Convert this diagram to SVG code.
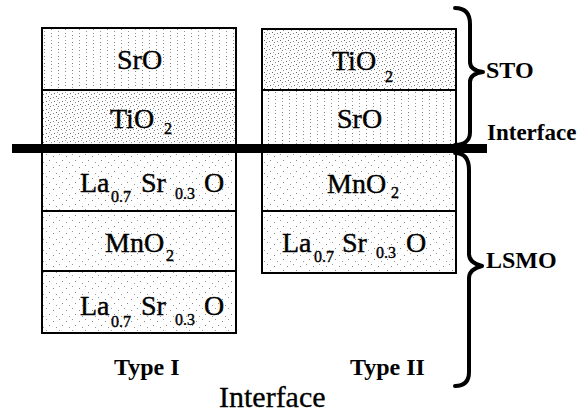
<svg xmlns="http://www.w3.org/2000/svg" width="582" height="412" viewBox="0 0 582 412">
<defs>
<pattern id="pSrO" width="14" height="7" patternUnits="userSpaceOnUse">
<rect x="2" y="0" width="1" height="1" fill="#777"/>
<rect x="2" y="3" width="1" height="1" fill="#999"/>
<rect x="9" y="1" width="1" height="1" fill="#888"/>
<rect x="9" y="5" width="1" height="1" fill="#999"/>
</pattern>
<pattern id="pTi" width="8" height="8" patternUnits="userSpaceOnUse">
<rect x="0" y="0" width="1" height="1" fill="#666"/>
<rect x="2" y="2" width="1" height="1" fill="#777"/>
<rect x="5" y="1" width="1" height="1" fill="#888"/>
<rect x="6" y="5" width="1" height="1" fill="#666"/>
<rect x="3" y="6" width="1" height="1" fill="#888"/>
<rect x="1" y="4" width="1" height="1" fill="#999"/>
</pattern>
<pattern id="pLS" width="13" height="11" patternUnits="userSpaceOnUse">
<rect x="1" y="2" width="1" height="1" fill="#888"/>
<rect x="7" y="0" width="1" height="1" fill="#999"/>
<rect x="10" y="6" width="1" height="1" fill="#888"/>
<rect x="4" y="8" width="1" height="1" fill="#999"/>
</pattern>
</defs>
<style>
.cell{stroke:#000;stroke-width:2}
.srO{fill:url(#pSrO)}
.ti{fill:url(#pTi)}
.ls{fill:url(#pLS)}
.lbl{font-family:"Liberation Serif","Times New Roman",serif;font-size:28px;fill:#000;stroke:#000;stroke-width:0.4}
.sub{font-size:16px}
.bold{font-family:"Liberation Serif","Times New Roman",serif;font-size:24px;font-weight:bold;fill:#000}
.cap{font-family:"Liberation Serif","Times New Roman",serif;font-size:30px;fill:#000;stroke:#000;stroke-width:0.3}
.brace{fill:none;stroke:#000;stroke-width:4;stroke-linecap:round;stroke-linejoin:round}
</style>
<rect width="582" height="412" fill="#fff"/>

<g id="type1">
<g id="t1-sro"><rect class="cell srO" x="42" y="28" width="194" height="62"/>
<text class="lbl" x="117" y="69">SrO</text></g>
<g id="t1-tio2"><rect class="cell ti" x="42" y="90" width="194" height="58"/>
<text class="lbl"><tspan x="110" y="128">TiO</tspan><tspan class="sub" x="164" y="134">2</tspan></text></g>
<g id="t1-lso1"><rect class="cell ls" x="42" y="148" width="194" height="63"/>
<text class="lbl"><tspan x="80" y="192">La</tspan><tspan class="sub" x="111" y="202">0.7</tspan><tspan x="141" y="192">Sr</tspan><tspan class="sub" x="175" y="199">0.3</tspan><tspan x="204" y="192">O</tspan></text></g>
<g id="t1-mno2"><rect class="cell ls" x="42" y="211" width="194" height="60"/>
<text class="lbl"><tspan x="105" y="252">MnO</tspan><tspan class="sub" x="166" y="261">2</tspan></text></g>
<g id="t1-lso2"><rect class="cell ls" x="42" y="271" width="194" height="62"/>
<text class="lbl"><tspan x="80" y="315">La</tspan><tspan class="sub" x="111" y="327">0.7</tspan><tspan x="141" y="315">Sr</tspan><tspan class="sub" x="175" y="325">0.3</tspan><tspan x="204" y="315">O</tspan></text></g>
</g>

<g id="type2">
<g id="t2-tio2"><rect class="cell ti" x="262" y="29" width="194" height="61"/>
<text class="lbl"><tspan x="332" y="70">TiO</tspan><tspan class="sub" x="385" y="82">2</tspan></text></g>
<g id="t2-sro"><rect class="cell srO" x="262" y="90" width="194" height="58"/>
<text class="lbl" x="337" y="128">SrO</text></g>
<g id="t2-mno2"><rect class="cell ls" x="262" y="148" width="194" height="63"/>
<text class="lbl"><tspan x="327" y="193">MnO</tspan><tspan class="sub" x="391" y="198">2</tspan></text></g>
<g id="t2-lso"><rect class="cell ls" x="262" y="211" width="194" height="62"/>
<text class="lbl"><tspan x="282" y="252">La</tspan><tspan class="sub" x="314" y="262">0.7</tspan><tspan x="342" y="252">Sr</tspan><tspan class="sub" x="376" y="258">0.3</tspan><tspan x="406" y="252">O</tspan></text></g>
</g>

<g id="connectors">
<rect id="interface-line" x="12" y="144" width="475" height="9" fill="#000"/>
<path class="brace" d="M455,8 C464,8 470,12 470,24 L470,62 C470,68 475,71 483,72 C475,73 470,76 470,82 L470,132 C470,141 464,145 455,145"/>
<path class="brace" d="M455,153 C464,153 469,158 469,170 L469,254 C469,260 474,264 482,266 C474,268 469,272 469,278 L469,372 C469,382 464,386 455,386"/>
</g>

<g id="labels">
<text class="bold" x="486" y="78">STO</text>
<text class="bold" x="487" y="140" style="font-size:23px">Interface</text>
<text class="bold" x="486" y="268">LSMO</text>
<text class="bold" x="114" y="375">Type I</text>
<text class="bold" x="350" y="375">Type II</text>
<text class="cap" x="219" y="407">Interface</text>
</g>
</svg>
